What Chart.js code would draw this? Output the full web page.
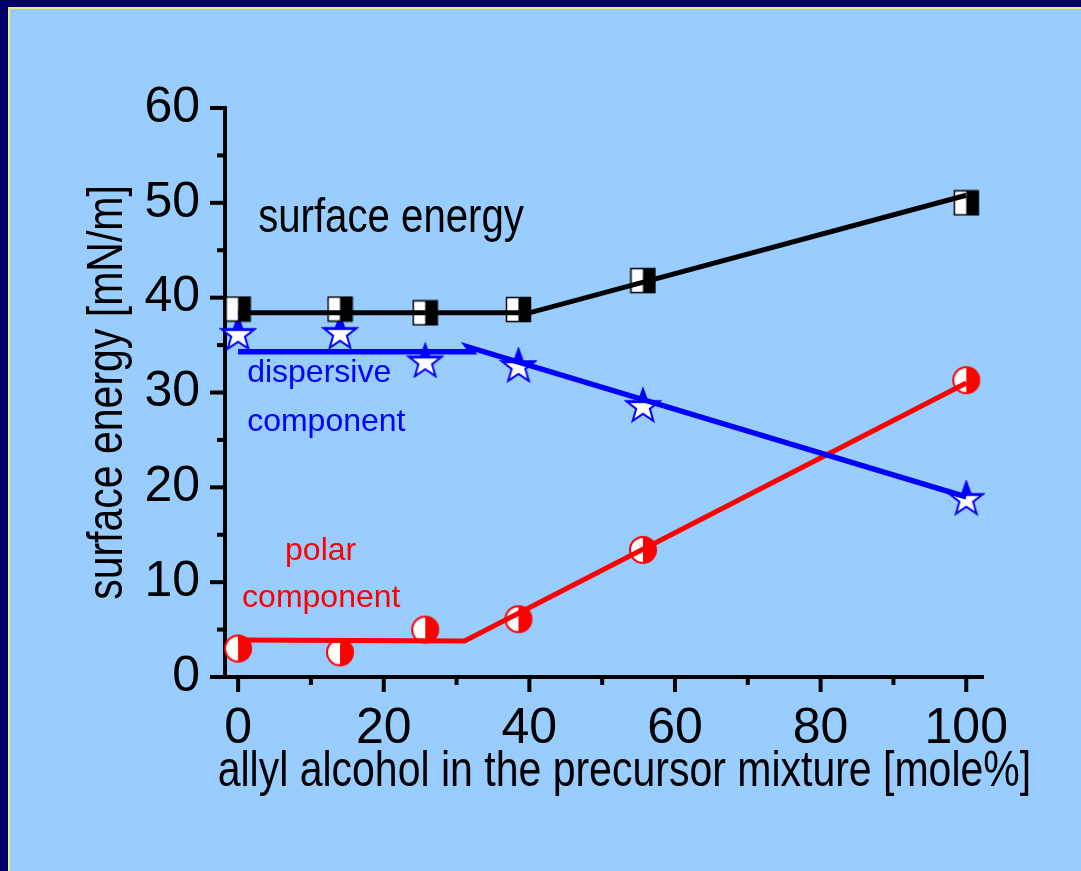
<!DOCTYPE html>
<html>
<head>
<meta charset="utf-8">
<script src="https://cdn.jsdelivr.net/npm/chart.js@4.4.1/dist/chart.umd.min.js"></script>
<style>
    html, body { margin: 0; padding: 0; background: #99ccff; }
    #frame { position: absolute; left: 0; top: 0; width: 1081px; height: 871px; box-sizing: border-box;
             border-top: 7px solid #000066; border-left: 8px solid #000066; }
    #frame div { position: absolute; left: 0; top: 0; right: 0; bottom: 0;
                 border-top: 2px solid #eeee77; border-left: 2px solid #eeee77; }
    #wrap { position: absolute; left: 0; top: 0; width: 1081px; height: 871px; }
</style>
</head>
<body>
<div id="frame"><div></div></div>
<div id="wrap"><canvas id="chart" width="1081" height="871"></canvas></div>
<script>
// измеренные точки
const molePercent = [0, 14, 25.7, 38.5, 55.6, 100]
const surfaceEnergy = [38.8, 38.8, 38.4, 38.75, 41.8, 50.0]
const dispersivePart = [36.3, 36.4, 33.4, 32.9, 28.7, 18.9]
const polarPart = [3.0, 2.6, 5.0, 6.1, 13.4, 31.3]

// линии аппроксимации
const surfaceFitX = [0, 40, 100]
const surfaceFitY = [38.4, 38.4, 50.8]
const dispersiveFitX = [0, 32.1, 31.6, 100]
const dispersiveFitY = [34.3, 34.3, 34.8, 19.0]
const polarFitX = [0, 31.1, 100]
const polarFitY = [3.9, 3.8, 31.0]

const xTicks = [0, 20, 40, 60, 80, 100]

const SANS = "'Liberation Sans', Arial, sans-serif"
const SQUEEZE = 0.82 // узкий шрифт в оригинале

const toPoints = (xs, ys) => xs.map((x, i) => ({ x: x, y: ys[i] }))

// маркеры: половинчатые квадрат, звезда, круг
const makeSquare = () => {
    const c = document.createElement('canvas')
    c.width = 27; c.height = 27
    const g = c.getContext('2d')
    g.fillStyle = '#fff'
    g.fillRect(1.5, 1.5, 12, 24)
    g.fillStyle = '#000'
    g.fillRect(13.5, 1.5, 12, 24)
    g.strokeStyle = '#000'
    g.lineWidth = 1.5
    g.strokeRect(1.5, 1.5, 24, 24)
    return c
}

const makeStar = () => {
    const c = document.createElement('canvas')
    c.width = 38; c.height = 36
    const g = c.getContext('2d')
    const R = 17.6, r = 7.2, cx = 19, cy = 19.7
    g.beginPath()
    for (let i = 0; i < 10; i++) {
        const a = -Math.PI / 2 + i * Math.PI / 5
        const rr = i % 2 === 0 ? R : r
        g.lineTo(cx + rr * Math.cos(a), cy + rr * Math.sin(a))
    }
    g.closePath()
    g.fillStyle = '#fff'
    g.fill()
    g.save()
    g.clip()
    g.fillStyle = '#0000ff'
    g.fillRect(0, 0, 38, cy - 3.5)
    g.restore()
    g.strokeStyle = '#0000ff'
    g.lineWidth = 2
    g.lineJoin = 'miter'
    g.stroke()
    return c
}

const makeCircle = () => {
    const c = document.createElement('canvas')
    c.width = 30; c.height = 30
    const g = c.getContext('2d')
    g.beginPath()
    g.arc(15, 15, 13, 0, Math.PI * 2)
    g.fillStyle = '#fff'
    g.fill()
    g.beginPath()
    g.moveTo(15, 2)
    g.arc(15, 15, 13, -Math.PI / 2, Math.PI / 2)
    g.closePath()
    g.fillStyle = '#ff0000'
    g.fill()
    g.beginPath()
    g.arc(15, 15, 13, 0, Math.PI * 2)
    g.strokeStyle = '#ff0000'
    g.lineWidth = 2
    g.stroke()
    return c
}

// узкий текст: сжатие по горизонтали вокруг точки привязки
const narrowText = (ctx, text, px, py, rotate) => {
    ctx.save()
    ctx.translate(px, py)
    if (rotate) ctx.rotate(-Math.PI / 2)
    ctx.scale(SQUEEZE, 1)
    ctx.fillText(text, 0, 0)
    ctx.restore()
}

// засечки осей, подписи и названия осей
const decorPlugin = {
    id: 'decor',
    afterDraw(chart) {
        const { ctx, chartArea, scales: { x, y } } = chart
        ctx.save()
        ctx.strokeStyle = '#000'
        ctx.lineWidth = 4
        ctx.lineCap = 'butt'
        for (let v = 0; v <= 60; v += 5) {
            const py = y.getPixelForValue(v)
            const len = v % 10 === 0 ? 15 : 8
            ctx.beginPath()
            ctx.moveTo(chartArea.left - len, py)
            ctx.lineTo(chartArea.left, py)
            ctx.stroke()
        }
        for (let v = 0; v <= 100; v += 10) {
            const px = x.getPixelForValue(v)
            const len = v % 20 === 0 ? 15 : 8
            ctx.beginPath()
            ctx.moveTo(px, chartArea.bottom)
            ctx.lineTo(px, chartArea.bottom + len)
            ctx.stroke()
        }

        ctx.textBaseline = 'alphabetic'
        ctx.textAlign = 'left'
        ctx.fillStyle = '#000'
        ctx.font = '49px ' + SANS
        narrowText(ctx, 'surface energy', x.getPixelForValue(2.75), y.getPixelForValue(46.9), false)

        const notes = [
            { text: 'dispersive', color: '#0000ff', x: 1.24, y: 31.1 },
            { text: 'component', color: '#0000ff', x: 1.24, y: 25.9 },
            { text: 'polar', color: '#ff0000', x: 6.45, y: 12.3 },
            { text: 'component', color: '#ff0000', x: 0.55, y: 7.4 }
        ]
        ctx.font = '32px ' + SANS
        notes.forEach(n => {
            ctx.fillStyle = n.color
            ctx.fillText(n.text, x.getPixelForValue(n.x), y.getPixelForValue(n.y))
        })

        ctx.font = '50px ' + SANS
        ctx.fillStyle = '#000'
        ctx.textAlign = 'center'
        narrowText(ctx, 'allyl alcohol in the precursor mixture [mole%]', x.getPixelForValue(53.05), chartArea.bottom + 109, false)
        narrowText(ctx, 'surface energy [mN/m]', chartArea.left - 103, (chartArea.top + chartArea.bottom) / 2, true)
        ctx.restore()
    }
}

const ctx = document.getElementById('chart').getContext('2d')

new Chart(ctx, {
    type: 'scatter',
    data: {
        datasets: [
            { data: toPoints(surfaceFitX, surfaceFitY), showLine: true, borderColor: '#000', borderWidth: 5, pointRadius: 0, order: 0 },
            { data: toPoints(dispersiveFitX, dispersiveFitY), showLine: true, borderColor: '#0000ff', borderWidth: 5.5, pointRadius: 0, order: 0 },
            { data: toPoints(polarFitX, polarFitY), showLine: true, borderColor: '#ff0000', borderWidth: 5, pointRadius: 0, order: 0 },
            { data: toPoints(molePercent, surfaceEnergy), pointStyle: makeSquare(), pointRadius: 12, order: 1 },
            { data: toPoints(molePercent, dispersivePart), pointStyle: makeStar(), pointRadius: 16, order: 1 },
            { data: toPoints(molePercent, polarPart), pointStyle: makeCircle(), pointRadius: 13, order: 1 }
        ]
    },
    options: {
        responsive: false,
        animation: false,
        clip: false,
        layout: { padding: { left: 0, top: 108, right: 98, bottom: 0 } },
        plugins: { legend: { display: false }, tooltip: { enabled: false } },
        scales: {
            x: {
                type: 'linear',
                min: -1.8,
                max: 102.3,
                afterBuildTicks: scale => { scale.ticks = xTicks.map(v => ({ value: v })) },
                afterFit: scale => { scale.height = 871 - 677 },
                grid: { display: false },
                border: { display: true, color: '#000', width: 4 },
                ticks: { color: '#000', padding: 14, font: { family: SANS, size: 50 } }
            },
            y: {
                type: 'linear',
                min: 0,
                max: 60,
                afterFit: scale => { scale.width = 225 },
                grid: { display: false },
                border: { display: true, color: '#000', width: 4 },
                ticks: { color: '#000', stepSize: 10, padding: 17, font: { family: SANS, size: 50 } }
            }
        }
    },
    plugins: [decorPlugin]
})
</script>
</body>
</html>
